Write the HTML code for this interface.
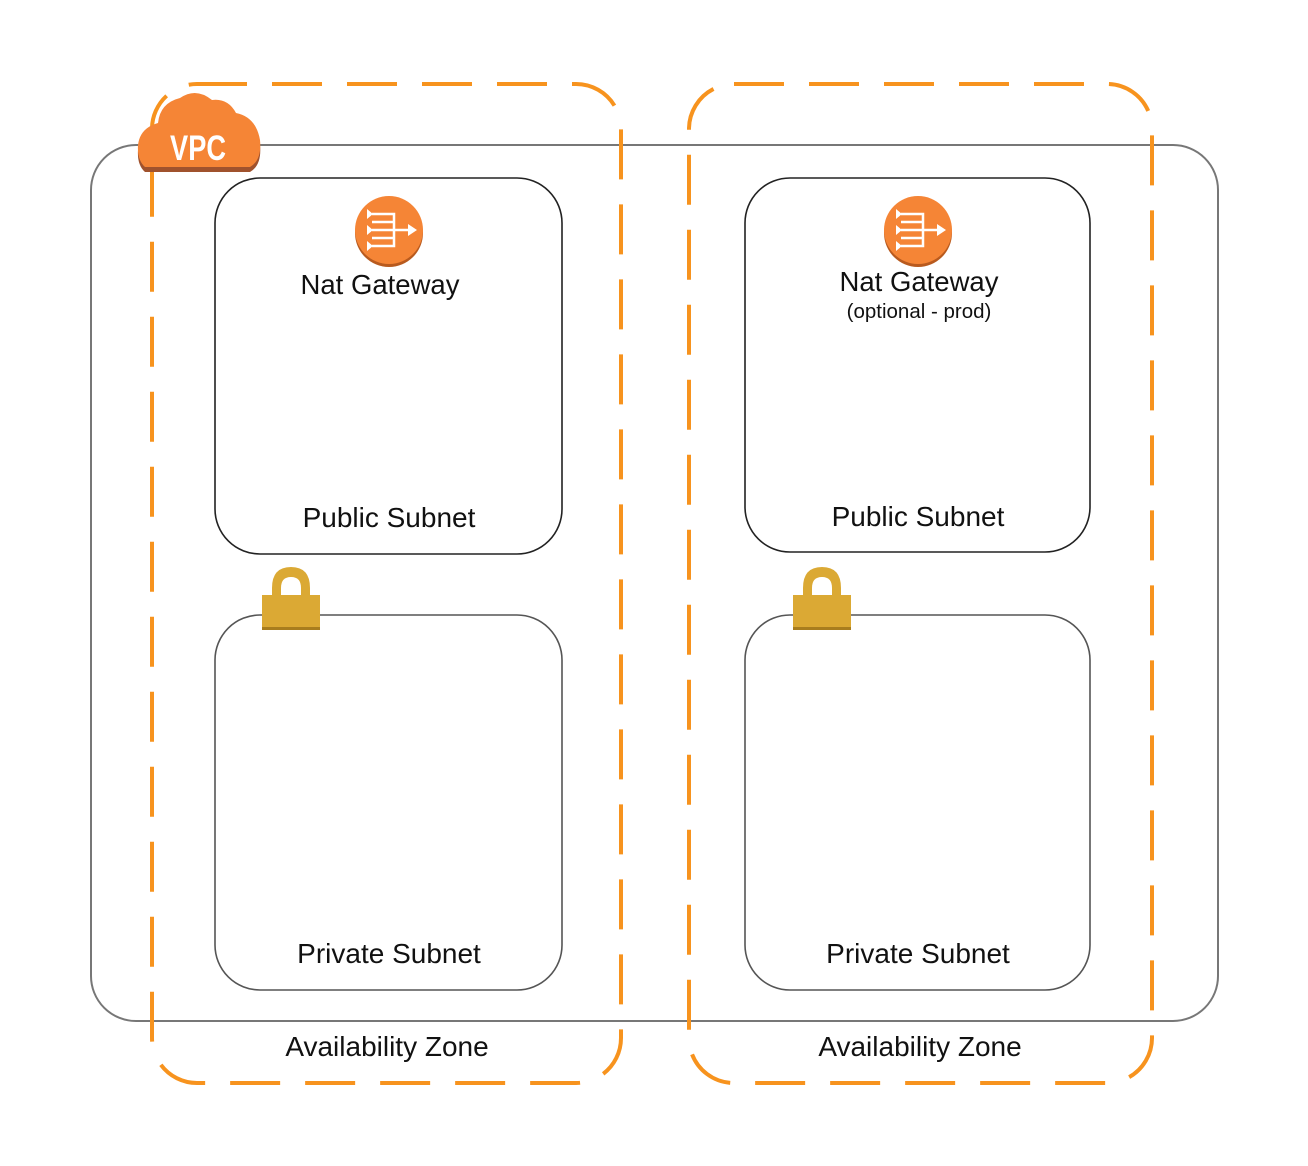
<!DOCTYPE html>
<html><head><meta charset="utf-8"><style>
html,body{margin:0;padding:0;background:#fff;}
svg{display:block;}
text{font-family:"Liberation Sans",sans-serif;fill:#111;}
</style></head><body>
<svg width="1308" height="1166" viewBox="0 0 1308 1166" xmlns="http://www.w3.org/2000/svg">
<rect x="91" y="145" width="1127" height="876" rx="45" fill="none" stroke="#777" stroke-width="2"/>
<g fill="none" stroke="#f7931e" stroke-width="4" stroke-dasharray="50 25">
<rect x="152" y="84" width="469" height="999" rx="45"/>
<rect x="689" y="84" width="463" height="999" rx="45"/>
</g>
<g fill="none" stroke="#222" stroke-width="1.6">
<rect x="215" y="178" width="347" height="376" rx="45"/>
<rect x="745" y="178" width="345" height="374" rx="45"/>
<rect x="215" y="615" width="347" height="375" rx="45" stroke="#555"/>
<rect x="745" y="615" width="345" height="375" rx="45" stroke="#555"/>
</g>
<g>
<path d="M145,172 Q137,165 138,150 Q140,133 158,128 Q160,108 180,103 Q196,92 212,105 Q228,103 236,118 Q256,122 260,145 Q262,165 250,172 Z" fill="#a0522d"/>
<path d="M145,167 Q137,160 138,145 Q140,128 158,123 Q160,103 180,98 Q196,87 212,100 Q228,98 236,113 Q256,117 260,140 Q262,160 250,167 Z" fill="#f58536"/>
<text x="0" y="0" text-anchor="middle" font-size="32" font-weight="bold" style="fill:#fff" transform="translate(198,160) scale(0.85 1.1)">VPC</text>
</g>
<g id="nat">
<circle cx="389" cy="233" r="34" fill="#b85a1e"/>
<circle cx="389" cy="230" r="34" fill="#f58536"/>
<g stroke="#fff" stroke-width="2.5" fill="none">
<path d="M372,214 H394 V246 H372 M372,230 H410 M372,222 H394 M372,238 H394"/>
</g>
<g fill="#fff"><path d="M367,209 l6,5 l-6,5z M367,225 l6,5 l-6,5z M367,241 l6,5 l-6,5z M408,224 l9,6 l-9,6z"/></g>
</g>
<use href="#nat" x="529" y="0"/>
<text x="380" y="294" text-anchor="middle" font-size="27.5">Nat Gateway</text>
<text x="919" y="291" text-anchor="middle" font-size="27.5">Nat Gateway</text>
<text x="919" y="318" text-anchor="middle" font-size="20.5">(optional - prod)</text>
<text x="389" y="527" text-anchor="middle" font-size="28">Public Subnet</text>
<text x="918" y="526" text-anchor="middle" font-size="28">Public Subnet</text>
<text x="389" y="963" text-anchor="middle" font-size="28">Private Subnet</text>
<text x="918" y="963" text-anchor="middle" font-size="28">Private Subnet</text>
<text x="387" y="1056" text-anchor="middle" font-size="28">Availability Zone</text>
<text x="920" y="1056" text-anchor="middle" font-size="28">Availability Zone</text>
<g id="lock">
<path d="M272,597 V588 Q272,567 291,567 Q310,567 310,588 V597 H301 V588 Q301,577 291,577 Q281,577 281,588 V597 Z" fill="#dba934"/>
<rect x="262" y="595" width="58" height="35" fill="#dba934"/>
<rect x="262" y="627" width="58" height="3" fill="#a87d1e"/>
</g>
<use href="#lock" x="531" y="0"/>
</svg>
</body></html>
